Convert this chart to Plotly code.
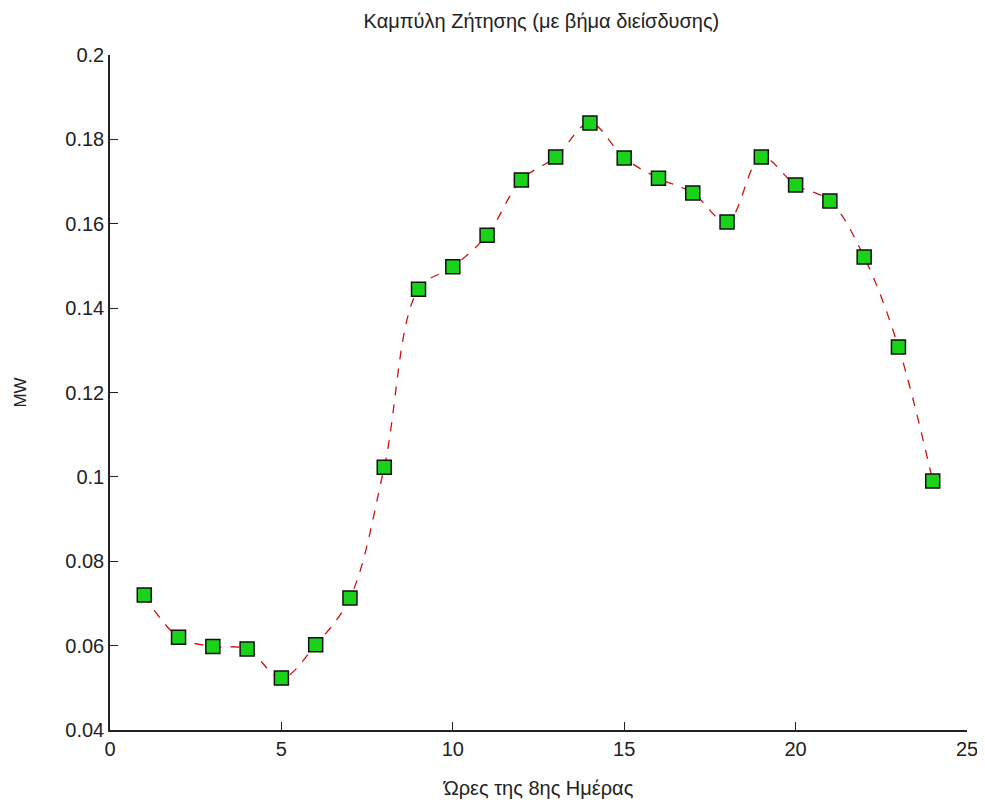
import plotly.graph_objects as go

hours = list(range(1, 25))
demand_mw = [0.0720, 0.0620, 0.0598, 0.0592, 0.0523, 0.0602, 0.0713, 0.1023,
             0.1445, 0.1498, 0.1573, 0.1704, 0.1758, 0.1839, 0.1756, 0.1708,
             0.1673, 0.1604, 0.1758, 0.1692, 0.1654, 0.1521, 0.1308, 0.0990]

x_ticks = [0, 5, 10, 15, 20, 25]
y_ticks = [0.04, 0.06, 0.08, 0.1, 0.12, 0.14, 0.16, 0.18, 0.2]
y_tick_text = ["0.04", "0.06", "0.08", "0.1", "0.12", "0.14", "0.16", "0.18", "0.2"]

title_text = "Καμπύλη Ζήτησης (με βήμα διείσδυσης)"
x_label = "Ώρες της 8ης Ημέρας"
y_label = "MW"

FONT = "Liberation Sans Narrow, Arial Narrow, Liberation Sans, sans-serif"

fig = go.Figure()
fig.add_trace(go.Scatter(
    x=hours, y=demand_mw, mode="lines",
    line=dict(color="#d01010", width=1.3, dash="dash", shape="spline", smoothing=1.0),
    hoverinfo="skip", showlegend=False,
))
fig.add_trace(go.Scatter(
    x=hours, y=demand_mw, mode="markers",
    marker=dict(symbol="square", size=14, color="#19d219",
                line=dict(color="#111111", width=1.5)),
    showlegend=False,
))

fig.update_layout(
    width=977, height=800,
    paper_bgcolor="white", plot_bgcolor="white",
    margin=dict(l=102, r=18, t=47, b=78, autoexpand=False),
    font=dict(family=FONT, color="#222222"),
    title=dict(text=title_text, x=0.546, xanchor="center", y=0.984, yanchor="middle",
               font=dict(family=FONT, size=20, color="#222222")),
)
fig.update_xaxes(
    range=[0, 25], tickvals=x_ticks, ticktext=[str(t) for t in x_ticks],
    showgrid=False, zeroline=False, showline=True, linecolor="#222222", linewidth=1.5,
    ticks="inside", ticklen=8, tickwidth=1.3, tickcolor="#222222", automargin=False,
    tickfont=dict(family=FONT, size=20, color="#222222"),
    title=dict(text=x_label, font=dict(family=FONT, size=20, color="#222222"), standoff=22),
)
fig.update_yaxes(
    range=[0.04, 0.2], tickvals=y_ticks, ticktext=y_tick_text,
    showgrid=False, zeroline=False, showline=True, linecolor="#222222", linewidth=1.5,
    ticks="inside", ticklen=8, tickwidth=1.3, tickcolor="#222222", automargin=False,
    tickfont=dict(family=FONT, size=20, color="#222222"),
    title=dict(text=y_label, font=dict(family=FONT, size=17, color="#222222"), standoff=34),
)

fig.write_html("out.html")
